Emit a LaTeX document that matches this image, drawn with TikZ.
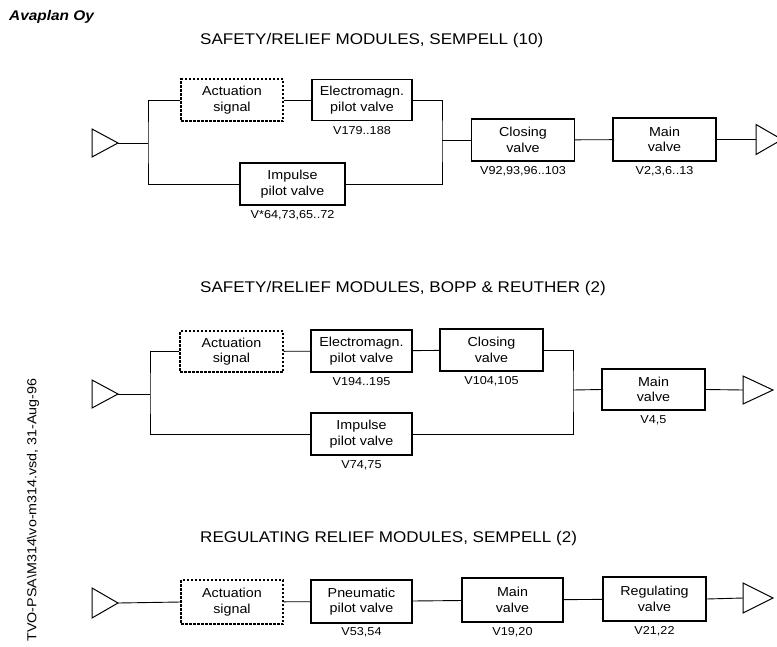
\documentclass[tikz,border=0pt]{standalone}
\usepackage{fontspec}
\setmainfont{Liberation Sans}
\newfontfamily\arialx[FakeStretch=1.1]{Liberation Sans}
\begin{document}
\begin{tikzpicture}[x=1pt,y=-1pt,
  box/.style={draw, line width=1.1pt, align=center, inner sep=0pt,
    font=\arialx\fontsize{13}{15.5}\selectfont},
  dbox/.style={box, dash pattern=on 2.5pt off 1.5pt},
  lbl/.style={font=\arialx\fontsize{11.5}{13}\selectfont, inner sep=0pt, anchor=north},
  ttl/.style={font=\arialx\fontsize{15.5}{17}\selectfont, anchor=west, inner sep=0pt},
  wire/.style={line width=0.9pt},
  tri/.style={line width=1pt, line join=miter}
]
\useasboundingbox (0,0) rectangle (777,646);

% header and side text
\node[font=\arialx\fontsize{14}{16}\selectfont\bfseries\itshape, anchor=west, inner sep=0pt] (hdr) at (9,17) {Avaplan Oy};
\node[font=\arialx\fontsize{13}{15}\selectfont, rotate=90, inner sep=0pt] (side) at (33,510) {TVO-PSA\textbackslash M314\textbackslash vo-m314.vsd, 31-Aug-96};

% ================= Section 1 =================
\node[ttl] (t1) at (200,40) {SAFETY/RELIEF MODULES, SEMPELL (10)};
\node[dbox, minimum width=102pt, minimum height=42pt] (act1) at (232,100) {Actuation\\signal};
\node[box, minimum width=100pt, minimum height=41pt] (em1) at (362,100) {Electromagn.\\pilot valve};
\node[lbl] (lem1) at ([yshift=-5pt]em1.south) {V179..188};
\node[box, minimum width=105pt, minimum height=42pt] (imp1) at (292.5,184) {Impulse\\pilot valve};
\node[lbl] (limp1) at ([yshift=-5pt]imp1.south) {V*64,73,65..72};
\node[box, minimum width=103pt, minimum height=42pt] (cl1) at (523,140) {Closing\\valve};
\node[lbl] (lcl1) at ([yshift=-5pt]cl1.south) {V92,93,96..103};
\node[box, minimum width=103pt, minimum height=43pt] (mv1) at (664.5,139.5) {Main\\valve};
\node[lbl] (lmv1) at ([yshift=-5pt]mv1.south) {V2,3,6..13};
\coordinate (in1) at (118,143);
\coordinate (s1) at (148,143);
\coordinate (m1) at (442,140);
\coordinate (out1) at (756,139.5);
\draw[tri] (in1) -- ++(-26,-14) -- ++(0,28) -- cycle;
\draw[wire] (in1) -- (s1);
\draw[wire] (act1.west) -| (s1) |- (imp1.west);
\draw[wire] (act1) -- (em1);
\draw[wire] (em1.east) -| (m1) |- (imp1.east);
\draw[wire] (m1) -- (cl1.west);
\draw[wire] (cl1) -- (mv1);
\draw[wire] (mv1.east) -- (out1);
\draw[tri] (out1) -- ++(0,-15) -- ++(26,15) -- ++(-26,15) -- cycle;

% ================= Section 2 =================
\node[ttl] (t2) at (200,288) {SAFETY/RELIEF MODULES, BOPP \& REUTHER (2)};
\node[dbox, minimum width=103pt, minimum height=41pt] (act2) at (231.5,351.5) {Actuation\\signal};
\node[box, minimum width=101pt, minimum height=42pt] (em2) at (361.5,351) {Electromagn.\\pilot valve};
\node[lbl] (lem2) at ([yshift=-5pt]em2.south) {V194..195};
\node[box, minimum width=103pt, minimum height=42pt] (cl2) at (491.5,350) {Closing\\valve};
\node[lbl] (lcl2) at ([yshift=-5pt]cl2.south) {V104,105};
\node[box, minimum width=101pt, minimum height=42pt] (imp2) at (361.5,434) {Impulse\\pilot valve};
\node[lbl] (limp2) at ([yshift=-5pt]imp2.south) {V74,75};
\node[box, minimum width=103pt, minimum height=41pt] (mv2) at (653.5,389.5) {Main\\valve};
\node[lbl] (lmv2) at ([yshift=-5pt]mv2.south) {V4,5};
\coordinate (in2) at (118,394);
\coordinate (s2) at (150,394);
\coordinate (m2) at (573,390);
\coordinate (out2) at (743,390);
\draw[tri] (in2) -- ++(-26,-14) -- ++(0,28) -- cycle;
\draw[wire] (in2) -- (s2);
\draw[wire] (act2.west) -| (s2) |- (imp2.west);
\draw[wire] (act2) -- (em2);
\draw[wire] (em2) -- (cl2);
\draw[wire] (cl2.east) -| (m2) |- (imp2.east);
\draw[wire] (m2) -- (mv2.west);
\draw[wire] (mv2.east) -- (out2);
\draw[tri] (out2) -- ++(0,-14) -- ++(30,14) -- ++(-30,14) -- cycle;

% ================= Section 3 =================
\node[ttl] (t3) at (200,538) {REGULATING RELIEF MODULES, SEMPELL (2)};
\node[dbox, minimum width=102pt, minimum height=44pt] (act3) at (232,602) {Actuation\\signal};
\node[box, minimum width=101pt, minimum height=43pt] (pn3) at (361.5,601.5) {Pneumatic\\pilot valve};
\node[lbl] (lpn3) at ([yshift=-4pt]pn3.south) {V53,54};
\node[box, minimum width=101pt, minimum height=44pt] (mv3) at (512.5,600) {Main\\valve};
\node[lbl] (lmv3) at ([yshift=-5pt]mv3.south) {V19,20};
\node[box, minimum width=103pt, minimum height=44pt] (rg3) at (654.5,599) {Regulating\\valve};
\node[lbl] (lrg3) at ([yshift=-5pt]rg3.south) {V21,22};
\coordinate (in3) at (118,603);
\coordinate (out3) at (743,598);
\draw[tri] (in3) -- ++(-26,-15) -- ++(0,30) -- cycle;
\draw[wire] (in3) -- (act3.west);
\draw[wire] (act3) -- (pn3);
\draw[wire] (pn3) -- (mv3);
\draw[wire] (mv3) -- (rg3);
\draw[wire] (rg3.east) -- (out3);
\draw[tri] (out3) -- ++(0,-15) -- ++(30,15) -- ++(-30,15) -- cycle;
\end{tikzpicture}
\end{document}
